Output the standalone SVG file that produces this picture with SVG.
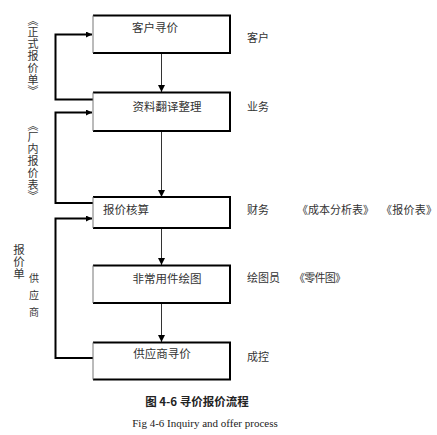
<svg xmlns="http://www.w3.org/2000/svg" width="437" height="435" viewBox="0 0 437 435">
<style>
.cj{font-family:"Noto Sans CJK SC","Noto Sans",sans-serif;fill:#333;font-size:11px}
.bt{font-size:11.5px}
.bx{fill:#fff;stroke:none}
.edge{fill:none;stroke:#000;stroke-width:2}
.ledge{stroke:#777;stroke-width:1}
.v{stroke:#333;stroke-width:1;fill:none}
.fb{fill:none;stroke:#000;stroke-width:2}
.vt{writing-mode:vertical-rl}
</style>
<defs>
<marker id="ah" viewBox="0 0 10 10" refX="10" refY="5" markerWidth="7" markerHeight="7" markerUnits="userSpaceOnUse" orient="auto"><path d="M0,0 L10,5 L0,10 Z" fill="#000"/></marker>
<marker id="ah2" viewBox="0 0 10 10" refX="10" refY="5" markerWidth="6" markerHeight="6" markerUnits="userSpaceOnUse" orient="auto"><path d="M0,0 L10,5 L0,10 Z" fill="#000"/></marker>
</defs>
<rect width="437" height="435" fill="#fff"/>

<g id="connectors">
<line class="v" x1="161.5" y1="53" x2="161.5" y2="92" marker-end="url(#ah)"/>
<line class="v" x1="161.5" y1="131" x2="161.5" y2="197" marker-end="url(#ah)"/>
<line class="v" x1="161.5" y1="228" x2="161.5" y2="265" marker-end="url(#ah)"/>
<line class="v" x1="161.5" y1="303" x2="161.5" y2="342" marker-end="url(#ah)"/>
<path class="fb" d="M93,99.5 H55.5 V34.5 H92" marker-end="url(#ah2)"/>
<path class="fb" d="M93,203 H55.5 V112.5 H92" marker-end="url(#ah2)"/>
<path class="fb" d="M93,358 H55.5 V218.5 H92" marker-end="url(#ah2)"/>
</g>

<g id="n1">
<rect class="bx" x="93" y="15.5" width="137" height="37.5"/>
<path class="edge" d="M93,15.5 H230 V53 H93"/>
<line class="ledge" x1="93" y1="15.5" x2="93" y2="53"/>
<text class="cj bt" x="155" y="32" text-anchor="middle">客户寻价</text>
</g>
<g id="n2">
<rect class="bx" x="93" y="92.5" width="137" height="38.5"/>
<path class="edge" d="M93,92.5 H230 V131 H93"/>
<line class="ledge" x1="93" y1="92.5" x2="93" y2="131"/>
<text class="cj bt" x="167" y="111" text-anchor="middle">资料翻译整理</text>
</g>
<g id="n3">
<rect class="bx" x="93" y="197" width="137" height="31"/>
<path class="edge" d="M93,197 H230 V228 H93"/>
<line class="ledge" x1="93" y1="197" x2="93" y2="228"/>
<text class="cj bt" x="103" y="214">报价核算</text>
</g>
<g id="n4">
<rect class="bx" x="93" y="265.5" width="137" height="37.5"/>
<path class="edge" d="M93,265.5 H230 V303 H93"/>
<line class="ledge" x1="93" y1="265.5" x2="93" y2="303"/>
<text class="cj bt" x="167" y="283" text-anchor="middle">非常用件绘图</text>
</g>
<g id="n5">
<rect class="bx" x="93" y="342.5" width="137" height="37"/>
<path class="edge" d="M93,342.5 H230 V379.5 H93"/>
<line class="ledge" x1="93" y1="342.5" x2="93" y2="379.5"/>
<text class="cj bt" x="162" y="358" text-anchor="middle">供应商寻价</text>
</g>

<g id="right-labels">
<text class="cj" x="247" y="42">客户</text>
<text class="cj" x="247" y="111">业务</text>
<text class="cj" x="247" y="214">财务</text>
<text class="cj" x="297" y="214" textLength="77">《成本分析表》</text>
<text class="cj" x="381" y="214" textLength="56">《报价表》</text>
<text class="cj" x="247" y="282">绘图员</text>
<text class="cj" x="294" y="282" textLength="52">《零件图》</text>
<text class="cj" x="247" y="361">成控</text>
</g>

<g id="left-labels">
<text class="cj vt" x="33" y="15" style="letter-spacing:0.8px">︽正式报价单︾</text>
<text class="cj vt" x="33" y="120" style="letter-spacing:0.8px">︽厂内报价表︾</text>
<text class="cj vt" x="19" y="244" style="letter-spacing:0.5px;font-size:11.5px">报价单</text>
<text class="cj vt" x="34" y="273" style="letter-spacing:7px;font-size:10px">供应商</text>
</g>

<g id="caption">
<text class="cj" x="197" y="406" text-anchor="middle" style="font-weight:bold;fill:#222;font-size:11.5px">图 4-6  寻价报价流程</text>
<text x="205" y="427" text-anchor="middle" style="font-family:'Liberation Serif',serif;font-size:11px;fill:#222">Fig 4-6 Inquiry and offer process</text>
</g>
</svg>
